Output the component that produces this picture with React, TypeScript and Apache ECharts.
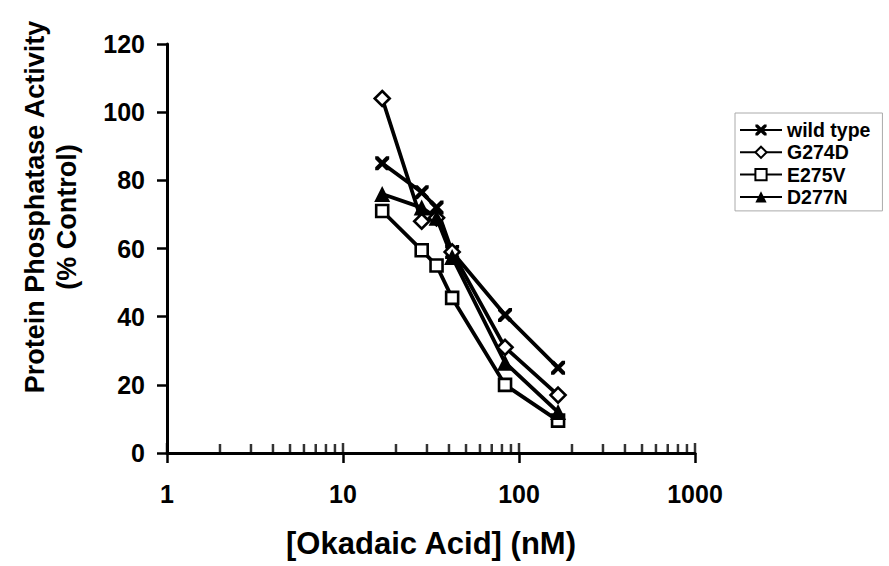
import React, { useEffect, useRef } from "react";
import * as echarts from "echarts";

const concentrations = [16.7, 28, 34, 41.7, 83.3, 166.7];
const wildType = [85, 76.5, 72, 59, 40.5, 25];
const g274d = [104, 68, 69, 59, 31, 17];
const e275v = [71, 59.5, 55, 45.5, 20, 9.5];
const d277n = [76, 72, 69, 57.5, 26.5, 12];
const seriesNames = ["wild type", "G274D", "E275V", "D277N"];
const majorTicks = [1, 10, 100, 1000];
const minorTicks = [2, 3, 4, 5, 6, 7, 8, 9, 20, 30, 40, 50, 60, 70, 80, 90, 200, 300, 400, 500, 600, 700, 800, 900];
const yMin = 0;
const yMax = 120;
const yInterval = 20;
const xTitle = "[Okadaic Acid] (nM)";
const yTitle1 = "Protein Phosphatase Activity";
const yTitle2 = "(% Control)";

const FONT = "'Liberation Sans', Arial, sans-serif";
const CROSS =
  "path://M0,0L2.6,0L6,3.4L9.4,0L12,0L12,2.6L8.6,6L12,9.4L12,12L9.4,12L6,8.6L2.6,12L0,12L0,9.4L3.4,6L0,2.6Z";

const pairs = (ys: number[]) => concentrations.map((x, i) => [x, ys[i]]);

export default function App() {
  const ref = useRef<HTMLDivElement>(null);
  useEffect(() => {
    if (!ref.current) return;
    const chart = echarts.init(ref.current, null, { renderer: "svg" });
    const lineStyle = { color: "#000", width: 3.8 };
    const mk = (name: string, ys: number[], symbol: string, size: number, hollow: boolean) => ({
      name,
      type: "line",
      data: pairs(ys),
      symbol,
      symbolSize: size,
      showAllSymbol: true,
      lineStyle,
      itemStyle: hollow
        ? { color: "#fff", borderColor: "#000", borderWidth: 2.6 }
        : { color: "#000", borderColor: "#000", borderWidth: 0 },
      z: 3,
    });
    chart.setOption({
      animation: false,
      backgroundColor: "#fff",
      textStyle: { fontFamily: FONT },
      grid: { left: 167, right: 194, top: 44, bottom: 113, containLabel: false },
      xAxis: {
        type: "log",
        logBase: 10,
        min: 1,
        max: 1000,
        axisLine: { show: true, onZero: false, lineStyle: { color: "#000", width: 3 } },
        axisTick: { show: true, length: 10, lineStyle: { color: "#000", width: 2.5 } },
        axisLabel: {
          margin: 28,
          color: "#000",
          fontSize: 25,
          fontWeight: "bold",
          fontFamily: FONT,
          formatter: (v: number) => String(Math.round(v)),
        },
        splitLine: { show: false },
        minorTick: { show: false },
      },
      yAxis: {
        type: "value",
        min: yMin,
        max: yMax,
        interval: yInterval,
        axisLine: { show: true, lineStyle: { color: "#000", width: 3 } },
        axisTick: { show: true, length: 10, lineStyle: { color: "#000", width: 2.5 } },
        axisLabel: {
          margin: 22,
          color: "#000",
          fontSize: 25,
          fontWeight: "bold",
          fontFamily: FONT,
        },
        splitLine: { show: false },
      },
      legend: {
        data: seriesNames,
        orient: "vertical",
        left: 735,
        top: 113,
        padding: [7, 12, 4, 4],
        borderColor: "#aaa",
        borderWidth: 1,
        itemWidth: 42,
        itemHeight: 14,
        itemGap: 2.3,
        selectedMode: false,
        textStyle: {
          color: "#000",
          fontSize: 19.5,
          fontWeight: "bold",
          fontFamily: FONT,
          lineHeight: 20,
        },
      },
      graphic: [
        {
          type: "text",
          x: 431,
          y: 543,
          style: {
            text: xTitle,
            fontSize: 31,
            fontWeight: "bold",
            fontFamily: FONT,
            fill: "#000",
            align: "center",
            verticalAlign: "middle",
          },
        },
        {
          type: "text",
          x: 35,
          y: 207,
          rotation: Math.PI / 2,
          style: {
            text: yTitle1,
            fontSize: 27,
            fontWeight: "bold",
            fontFamily: FONT,
            fill: "#000",
            align: "center",
            verticalAlign: "middle",
          },
        },
        {
          type: "text",
          x: 67,
          y: 217,
          rotation: Math.PI / 2,
          style: {
            text: yTitle2,
            fontSize: 27,
            fontWeight: "bold",
            fontFamily: FONT,
            fill: "#000",
            align: "center",
            verticalAlign: "middle",
          },
        },
      ],
      series: [
        {
          name: "minor-ticks",
          type: "scatter",
          data: minorTicks.map((v) => [v, 0]),
          symbol: "rect",
          symbolSize: [2.5, 9],
          symbolOffset: [0, -4.5],
          itemStyle: { color: "#000" },
          silent: true,
          clip: false,
          z: 1,
        },
        {
          name: "major-ticks",
          type: "scatter",
          data: majorTicks.map((v) => [v, 0]),
          symbol: "rect",
          symbolSize: [2.5, 10],
          symbolOffset: [0, -5],
          itemStyle: { color: "#000" },
          silent: true,
          clip: false,
          z: 1,
        },
        mk(seriesNames[0], wildType, CROSS, 14, false),
        mk(seriesNames[1], g274d, "diamond", 15, true),
        mk(seriesNames[2], e275v, "rect", 12, true),
        mk(seriesNames[3], d277n, "triangle", 16, false),
      ],
    });
    return () => chart.dispose();
  }, []);
  return (
    <div
      ref={ref}
      style={{ position: "fixed", left: 0, top: 0, width: 889, height: 566, background: "#fff" }}
    />
  );
}
